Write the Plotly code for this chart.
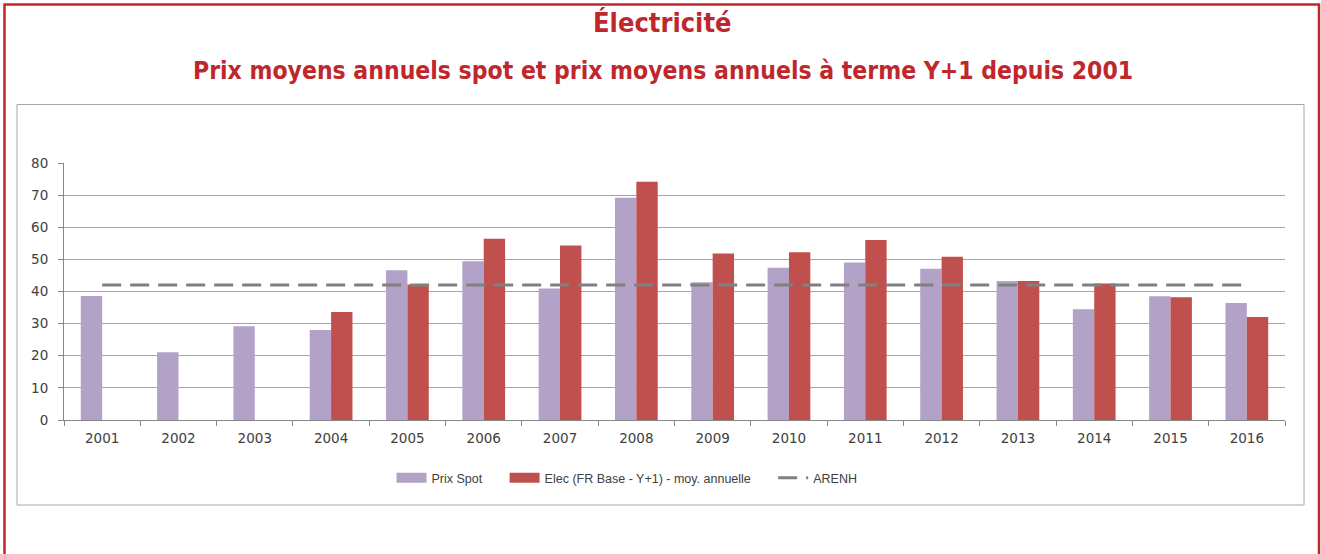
import plotly.graph_objects as go

years = [str(y) for y in range(2001, 2017)]
prix_spot = [38.6, 21.1, 29.2, 28.0, 46.6, 49.4, 40.9, 69.2, 42.9, 47.4, 49.0, 47.1, 43.3, 34.5, 38.5, 36.4]
elec_y1 = [None, None, None, 33.6, 42.2, 56.4, 54.3, 74.2, 51.8, 52.2, 56.0, 50.8, 43.3, 42.5, 38.2, 32.1]
arenh = [42] * 16
y_ticks = [0, 10, 20, 30, 40, 50, 60, 70, 80]

W, H = 1321, 554
L, R, T, B = 64, 1285, 163, 420  # plot area in pixels

def px(x):
    return (x - L) / (R - L)

def py(y):
    return (B - y) / (B - T)

RED = "#C0272D"
TXT = "#404040"
SPOT_C = "#B3A2C7"
FWD_C = "#C0504D"
PAD = "\u00a0" * 5

fig = go.Figure()
fig.add_trace(go.Bar(x=years, y=prix_spot, name="Prix Spot", marker_color=SPOT_C,
                     marker_line_width=0, legendgroup="spot", showlegend=False))
fig.add_trace(go.Bar(x=years, y=elec_y1, name="Elec (FR Base - Y+1) - moy. annuelle",
                     marker_color=FWD_C, marker_line_width=0, legendgroup="fwd", showlegend=False))
fig.add_trace(go.Scatter(x=years, y=arenh, name="ARENH", mode="lines", legendrank=3,
                         line=dict(color="#808080", width=3, dash="19px,9px")))
# legend swatches (wide rectangles as in the original)
fig.add_trace(go.Scatter(x=[None], y=[None], name="Prix Spot" + PAD, mode="lines", legendgroup="spot",
                         line=dict(color=SPOT_C, width=10), legendrank=1))
fig.add_trace(go.Scatter(x=[None], y=[None], name="Elec (FR Base - Y+1) - moy. annuelle" + PAD,
                         mode="lines", legendgroup="fwd", line=dict(color=FWD_C, width=10), legendrank=2))

shapes = [
    dict(type="rect", xref="paper", yref="paper", x0=px(4.5), x1=px(1319), y0=py(4.5), y1=py(560),
         line=dict(color=RED, width=2.5), fillcolor="rgba(0,0,0,0)", layer="below"),
    dict(type="rect", xref="paper", yref="paper", x0=px(17), x1=px(1304), y0=py(104.5), y1=py(505),
         line=dict(color="#A6A6A6", width=1), fillcolor="rgba(0,0,0,0)", layer="below"),
]

TITLE_FONT = "DejaVu Sans Condensed, Liberation Sans Narrow, Arial Narrow, sans-serif"
annotations = [
    dict(text="<b>Électricité</b>", xref="paper", yref="paper", x=px(662), y=py(22),
         xanchor="center", yanchor="middle", showarrow=False,
         font=dict(family=TITLE_FONT, size=27, color=RED)),
    dict(text="<b>Prix moyens annuels spot et prix moyens annuels à terme Y+1 depuis 2001</b>",
         xref="paper", yref="paper", x=px(663), y=py(71),
         xanchor="center", yanchor="middle", showarrow=False,
         font=dict(family=TITLE_FONT, size=24.5, color=RED)),
]

fig.update_layout(
    width=W, height=H,
    margin=dict(l=L, r=W - R, t=T, b=H - B, pad=0),
    paper_bgcolor="white", plot_bgcolor="white",
    barmode="group", bargap=0.44, bargroupgap=0,
    font=dict(family="Liberation Sans, Arial, sans-serif", size=13, color=TXT),
    showlegend=True,
    legend=dict(orientation="h", x=px(627), y=py(478), xanchor="center", yanchor="middle",
                font=dict(size=12.5, color=TXT), bgcolor="rgba(0,0,0,0)",
                itemwidth=30, tracegroupgap=0),
    shapes=shapes, annotations=annotations,
)
TICK_FONT = dict(family="DejaVu Sans, Verdana, sans-serif", size=13.5, color=TXT)
fig.update_xaxes(type="category", showline=True, linecolor="#868686", linewidth=1,
                 ticks="outside", tickson="boundaries", ticklen=5, tickcolor="#868686",
                 showgrid=False, tickfont=TICK_FONT, ticklabelstandoff=6, fixedrange=True)
fig.update_yaxes(range=[0, 80], tickvals=y_ticks, showline=True, linecolor="#868686", linewidth=1,
                 ticks="outside", ticklen=5, tickcolor="#868686",
                 showgrid=True, gridcolor="#A6A6A6", gridwidth=1, zeroline=False,
                 tickfont=TICK_FONT, ticklabelstandoff=7, fixedrange=True)

fig.write_html("out.html", config={"displayModeBar": False},
               post_script="document.body.style.margin='0';document.body.style.overflow='hidden';")
